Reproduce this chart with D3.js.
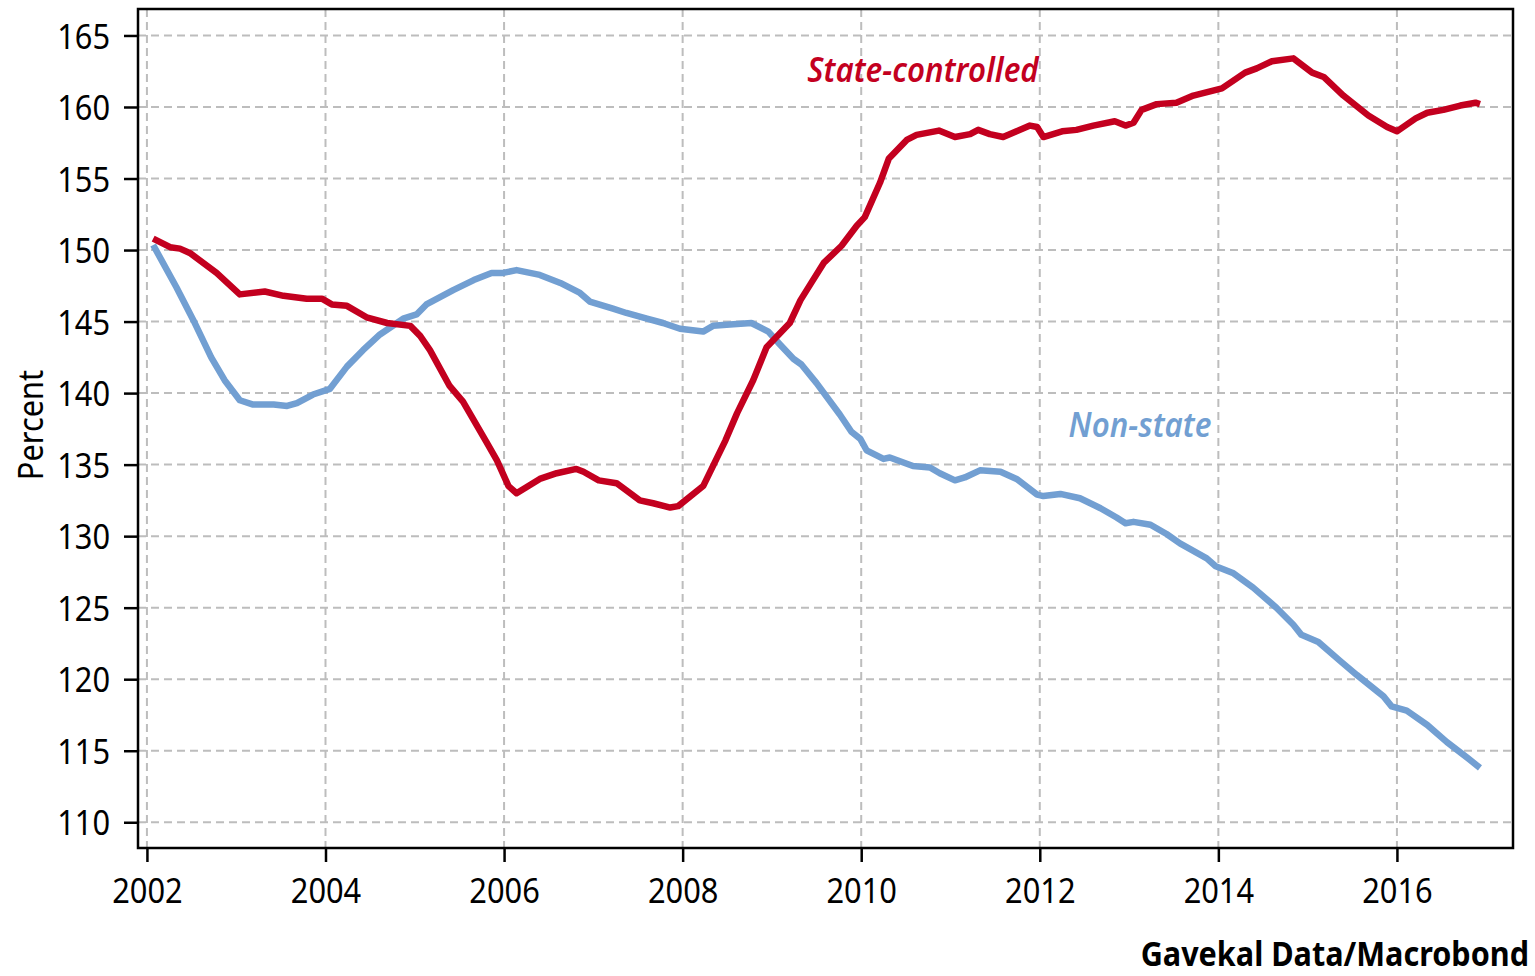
<!DOCTYPE html>
<html>
<head>
<meta charset="utf-8">
<script src="https://cdn.jsdelivr.net/npm/d3@7"></script>
<style>
  body { margin: 0; background: #fff; }
  svg { display: block; }
  .tick text { font-family: "Noto Sans", sans-serif; font-size: 35px; fill: #000; }
</style>
</head>
<body>
<div id="chart"></div>
<script>
// values (decimal years)
const stateYears = [2002.07, 2002.26, 2002.37, 2002.48, 2002.78, 2003.04, 2003.32, 2003.53, 2003.79, 2003.96,
  2004.07, 2004.24, 2004.46, 2004.69, 2004.95, 2005.06, 2005.17, 2005.39, 2005.54, 2005.80,
  2005.92, 2006.05, 2006.14, 2006.40, 2006.59, 2006.81, 2006.89, 2007.06, 2007.26, 2007.37,
  2007.52, 2007.67, 2007.86, 2007.95, 2008.23, 2008.48, 2008.61, 2008.79, 2008.94, 2009.20,
  2009.32, 2009.43, 2009.58, 2009.78, 2009.95, 2010.04, 2010.21, 2010.31, 2010.51, 2010.62,
  2010.87, 2011.05, 2011.22, 2011.31, 2011.44, 2011.59, 2011.74, 2011.89, 2011.97, 2012.04,
  2012.25, 2012.41, 2012.60, 2012.84, 2012.96, 2013.05, 2013.14, 2013.31, 2013.53, 2013.72,
  2014.04, 2014.30, 2014.43, 2014.60, 2014.84, 2015.05, 2015.18, 2015.40, 2015.68, 2015.89,
  2016.00, 2016.21, 2016.34, 2016.52, 2016.71, 2016.88, 2016.93];
const stateValues = [150.8, 150.2, 150.1, 149.8, 148.4, 146.9, 147.1, 146.8, 146.6, 146.6,
  146.2, 146.1, 145.3, 144.9, 144.7, 144.0, 143.0, 140.5, 139.4, 136.6,
  135.3, 133.5, 133.0, 134.0, 134.4, 134.7, 134.5, 133.9, 133.7, 133.2,
  132.5, 132.3, 132.0, 132.1, 133.5, 136.7, 138.6, 140.9, 143.2, 144.9,
  146.5, 147.6, 149.1, 150.3, 151.7, 152.3, 154.7, 156.4, 157.7, 158.05,
  158.35, 157.9, 158.1, 158.4, 158.1, 157.9, 158.3, 158.7, 158.6, 157.9,
  158.3, 158.4, 158.7, 159.0, 158.7, 158.9, 159.8, 160.2, 160.3, 160.8,
  161.3, 162.4, 162.7, 163.2, 163.4, 162.4, 162.1, 160.8, 159.4, 158.6,
  158.3, 159.2, 159.6, 159.8, 160.1, 160.3, 160.2];

const nonStateYears = [2002.07, 2002.33, 2002.52, 2002.72, 2002.87, 2003.04, 2003.19, 2003.42, 2003.57, 2003.68,
  2003.86, 2004.05, 2004.24, 2004.42, 2004.61, 2004.87, 2005.02, 2005.13, 2005.43, 2005.66,
  2005.86, 2005.99, 2006.14, 2006.40, 2006.63, 2006.85, 2006.96, 2007.22, 2007.37, 2007.60,
  2007.78, 2007.97, 2008.23, 2008.34, 2008.53, 2008.77, 2008.96, 2009.09, 2009.24, 2009.33,
  2009.50, 2009.76, 2009.89, 2009.99, 2010.06, 2010.25, 2010.32, 2010.58, 2010.77, 2010.88,
  2011.05, 2011.16, 2011.33, 2011.56, 2011.74, 2011.97, 2012.04, 2012.23, 2012.45, 2012.68,
  2012.86, 2012.96, 2013.05, 2013.24, 2013.42, 2013.57, 2013.87, 2013.97, 2014.17, 2014.39,
  2014.65, 2014.84, 2014.93, 2015.12, 2015.36, 2015.55, 2015.85, 2015.94, 2016.11, 2016.34,
  2016.56, 2016.79, 2016.93];
const nonStateValues = [150.35, 147.4, 145.1, 142.5, 140.9, 139.5, 139.2, 139.2, 139.1, 139.3,
  139.9, 140.3, 141.85, 143.0, 144.1, 145.2, 145.5, 146.2, 147.2, 147.9,
  148.4, 148.4, 148.6, 148.26, 147.7, 147.0, 146.4, 145.9, 145.6, 145.2,
  144.9, 144.5, 144.3, 144.7, 144.8, 144.9, 144.3, 143.4, 142.4, 142.0,
  140.7, 138.5, 137.3, 136.8, 136.0, 135.4, 135.5, 134.9, 134.8, 134.4,
  133.9, 134.1, 134.6, 134.5, 134.0, 132.9, 132.8, 132.95, 132.65, 131.95,
  131.3, 130.9, 131.0, 130.8, 130.15, 129.5, 128.45, 127.9, 127.4, 126.4,
  125.0, 123.8, 123.1, 122.6, 121.3, 120.3, 118.8, 118.1, 117.8, 116.8,
  115.6, 114.5, 113.8];

const xTicks = [2002, 2004, 2006, 2008, 2010, 2012, 2014, 2016];
const yTicks = [110, 115, 120, 125, 130, 135, 140, 145, 150, 155, 160, 165];

const W = 1535, H = 976;
const plotLeft = 138, plotRight = 1513, plotTop = 9, plotBottom = 848;
const SQUEEZE = 0.88; // the original font is narrower than Noto Sans

const svg = d3.select("#chart").append("svg")
    .attr("width", W).attr("height", H);

let x = d3.scaleLinear().domain([2001.9, 2017.3]).range([plotLeft, plotRight]);
let y = d3.scaleLinear().domain([108.2, 166.85]).range([plotBottom, plotTop]);

// grid
const grid = svg.append("g")
    .attr("stroke", "#bdbdbd").attr("stroke-width", 2).attr("stroke-dasharray", "8,5");
grid.selectAll("line.h").data(yTicks).enter().append("line")
    .attr("class", "h")
    .attr("x1", plotLeft).attr("x2", plotRight)
    .attr("y1", d => y(d)).attr("y2", d => y(d));
grid.selectAll("line.v").data(xTicks).enter().append("line")
    .attr("class", "v")
    .attr("x1", d => x(d)).attr("x2", d => x(d))
    .attr("y1", plotTop).attr("y2", plotBottom);

// axes
const yAxis = svg.append("g")
    .attr("transform", `translate(${plotLeft},0)`)
    .call(d3.axisLeft(y).tickValues(yTicks).tickSize(14).tickFormat(d3.format("d")));
const xAxis = svg.append("g")
    .attr("transform", `translate(0,${plotBottom})`)
    .call(d3.axisBottom(x).tickValues(xTicks).tickSize(14).tickFormat(d3.format("d")));
[yAxis, xAxis].forEach(a => {
    a.select(".domain").remove();
    a.selectAll(".tick line").attr("stroke", "#000").attr("stroke-width", 2.5);
});
yAxis.selectAll(".tick text")
    .attr("x", 0).attr("dy", "0.36em")
    .attr("transform", `translate(-28,0) scale(${SQUEEZE},1)`);
xAxis.selectAll(".tick text")
    .attr("y", 0).attr("dy", "0.71em")
    .attr("transform", `translate(0,30) scale(${SQUEEZE},1)`);

// lines
let line = d3.line().x(d => x(d[0])).y(d => y(d[1]));
const nonState = nonStateYears.map((t, i) => [t, nonStateValues[i]]);
const state = stateYears.map((t, i) => [t, stateValues[i]]);

svg.append("path").datum(nonState)
    .attr("d", line).attr("fill", "none")
    .attr("stroke", "#729fd2").attr("stroke-width", 6.5).attr("stroke-linejoin", "round");
svg.append("path").datum(state)
    .attr("d", line).attr("fill", "none")
    .attr("stroke", "#c3001f").attr("stroke-width", 6.5).attr("stroke-linejoin", "round");

// frame
svg.append("rect")
    .attr("x", plotLeft).attr("y", plotTop)
    .attr("width", plotRight - plotLeft).attr("height", plotBottom - plotTop)
    .attr("fill", "none").attr("stroke", "#000").attr("stroke-width", 2.5);

// series labels
function label(txt, cx, cy, color) {
    svg.append("text")
        .attr("transform", `translate(${cx},${cy}) scale(0.92,1)`)
        .attr("text-anchor", "middle")
        .attr("font-family", "Noto Sans, sans-serif").attr("font-style", "italic").attr("font-weight", 600)
        .attr("font-size", 34).attr("fill", color)
        .text(txt);
}
label("State-controlled", 923, 82, "#c3001f");
label("Non-state", 1140, 437, "#729fd2");

// axis title
svg.append("text")
    .attr("transform", `translate(43,425) rotate(-90) scale(${SQUEEZE},1)`)
    .attr("text-anchor", "middle")
    .attr("font-family", "Noto Sans, sans-serif").attr("font-size", 35)
    .text("Percent");

// source
svg.append("text")
    .attr("transform", "translate(1529,966) scale(0.9,1)")
    .attr("text-anchor", "end")
    .attr("font-family", "Noto Sans, sans-serif").attr("font-weight", 700).attr("font-size", 34)
    .text("Gavekal Data/Macrobond");
</script>
</body>
</html>
